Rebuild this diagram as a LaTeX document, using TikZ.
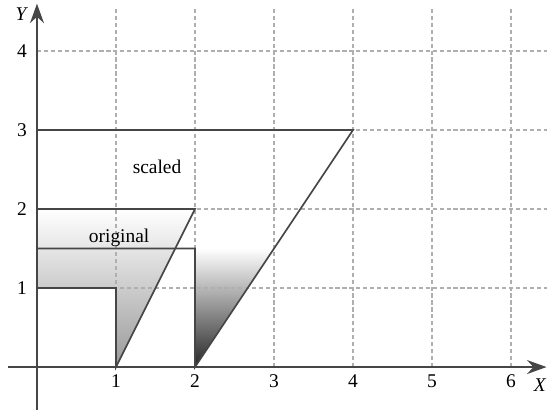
\documentclass[tikz,border=0pt]{standalone}
\usepackage{fontspec}
\setmainfont{Liberation Serif}
\usetikzlibrary{arrows.meta}
\definecolor{GridGray}{RGB}{175,175,175}
\definecolor{LineGray}{RGB}{70,70,70}

\begin{document}
\begin{tikzpicture}[font=\fontsize{7}{8}\selectfont,
    grid/.style={GridGray, dash pattern=on 1.5pt off 1pt, thin},
    outline/.style={LineGray, semithick},
    axis/.style={LineGray, thick, -{Stealth[length=7pt,width=5pt]}}]
    \useasboundingbox (-0.468,-0.57) rectangle (6.456,4.646);

    % Shaded shapes
    \shade[top color=white, bottom color=black!85, middle color=white]
      (0,3) -- (4,3) -- (2,0) -- (2,1.5) -- (0,1.5) -- cycle;
    \shade[top color=white, bottom color=black!40]
      (0,2) -- (2,2) -- (1,0) -- (1,1) -- (0,1) -- cycle;

    % Grid
    \foreach \x in {1,...,6}
      \draw[grid] (\x,0) -- (\x,4.55);
    \foreach \y in {1,...,4}
      \draw[grid] (0,\y) -- (6.46,\y);

    % Outlines
    \draw[outline] (0,3) -- (4,3) -- (2,0) -- (2,1.5) -- (0,1.5);
    \draw[outline] (0,2) -- (2,2) -- (1,0) -- (1,1) -- (0,1);
    \node (scaledlabel) at (1.52,2.53) {scaled};
    \node (originallabel) at (1.04,1.63) {original};

    % Axes
    \draw[axis] (-0.37,0) -- (6.45,0);
    \draw[axis] (0,-0.54) -- (0,4.6);
    \node (xlabel) at (6.37,-0.23) {\textit{X}};
    \node (ylabel) at (-0.19,4.47) {\textit{Y}};

    % Ticks
    \foreach \x in {1,...,6}
      \node (xtick\x) at (\x,-0.18) {\x};
    \foreach \y in {1,...,4}
      \node (ytick\y) at (-0.19,\y) {\y};
\end{tikzpicture}
\end{document}
